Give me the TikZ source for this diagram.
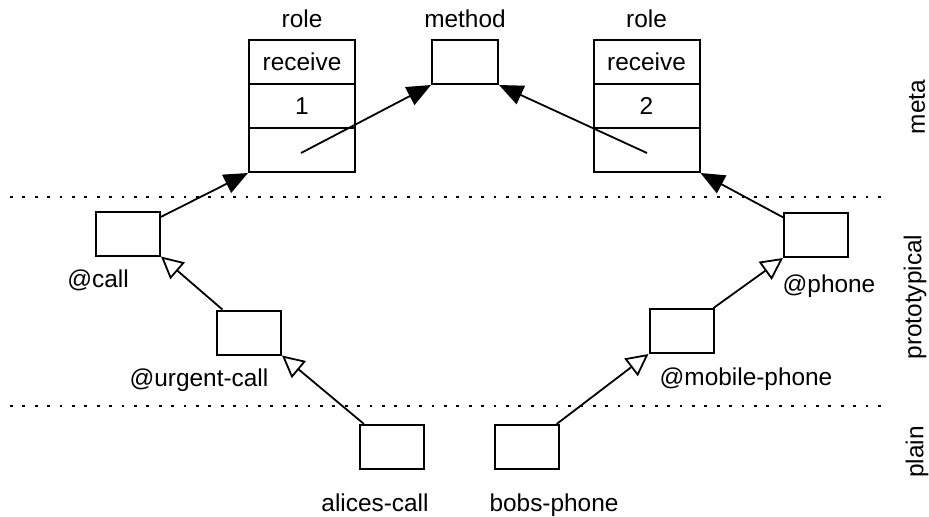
\documentclass[tikz,border=0pt]{standalone}
\usepackage{fontspec}
\setmainfont{Liberation Sans}
\usetikzlibrary{arrows.meta}
\begin{document}
\begin{tikzpicture}[x=0.5pt,y=-0.5pt,
  font=\fontsize{12.2}{14}\selectfont,
  box/.style={draw, line width=1pt, minimum width=32pt, minimum height=22pt, inner sep=0pt},
  cell/.style={draw, line width=1pt, minimum width=53pt, minimum height=22pt, inner sep=0pt},
  lbl/.style={anchor=base, inner sep=0pt},
  side/.style={rotate=90, anchor=center, inner sep=0pt},
  inherit/.style={line width=0.9pt, -{Triangle[open, length=11pt, width=11pt]}},
  uses/.style={line width=0.9pt, -{Triangle[length=12pt, width=10pt]}},
  sep/.style={line width=1.3pt, dash pattern=on 1.4pt off 4.8pt}
]
\useasboundingbox (0,0) rectangle (929,516);

% dotted separators
\coordinate (s1a) at (10,197); \coordinate (s1b) at (887,197);
\coordinate (s2a) at (10,406); \coordinate (s2b) at (887,406);
\draw[sep] (s1a) -- (s1b);
\draw[sep] (s2a) -- (s2b);

% meta level
\node[cell] (rl1) at (302,62) {receive};
\node[cell] (rl2) at (302,106) {1};
\node[cell] (rl3) at (302,150) {};
\node[cell] (rr1) at (646.5,62) {receive};
\node[cell] (rr2) at (646.5,106) {2};
\node[cell] (rr3) at (646.5,150) {};
\node[box, minimum width=33pt] (method) at (465,62) {};
\node[lbl] (rlt) at (302,27) {role};
\node[lbl] (mt) at (465,27) {method};
\node[lbl] (rrt) at (646.5,27) {role};

% prototypical level
\node[box] (call) at (128,233.5) {};
\node[box] (urgent) at (249,332.5) {};
\node[box] (phone) at (816,235) {};
\node[box] (mobile) at (681.5,331) {};
\node[lbl] (callt) at (98,287) {@call};
\node[lbl] (urgentt) at (199,386) {@urgent-call};
\node[lbl] (phonet) at (829,292) {@phone};
\node[lbl] (mobilet) at (746,385) {@mobile-phone};

% plain level
\node[box] (alice) at (391.5,447) {};
\node[box] (bob) at (526.5,447) {};
\node[lbl] (alicet) at (375,511) {alices-call};
\node[lbl] (bobt) at (554,511) {bobs-phone};

% side labels
\node[side] (meta) at (917,107) {meta};
\node[side] (proto) at (915,297) {prototypical};
\node[side] (plain) at (917,452) {plain};

% connectors
\coordinate (ml) at (301,153);
\coordinate (mr) at (647,153);
\draw[uses] (ml) -- (method.south west);
\draw[uses] (mr) -- (method.south east);
\draw[uses] (call) -- (rl3.south west);
\draw[uses] (phone) -- (rr3.south east);
\draw[inherit] (urgent) -- (call.south east);
\draw[inherit] (alice) -- (urgent.south east);
\draw[inherit] (bob) -- (mobile.south west);
\draw[inherit] (mobile) -- (phone.south west);
\end{tikzpicture}
\end{document}
